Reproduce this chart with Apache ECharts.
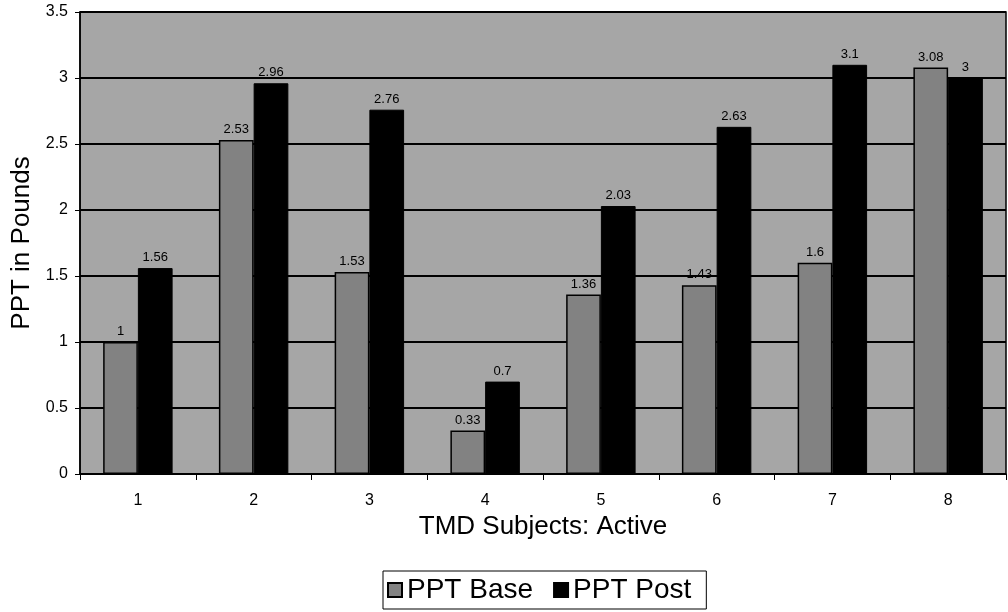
<!DOCTYPE html>
<html lang="en">
<head>
    <meta charset="UTF-8">
    <title>PPT chart</title>
    <script src="https://cdn.jsdelivr.net/npm/echarts@6/dist/echarts.min.js"></script>
    <style>
        html, body { margin: 0; padding: 0; background: #fff; }
        #chart { width: 1008px; height: 612px; }
    </style>
</head>
<body>
<div id="chart"></div>
<script type="text/javascript">
    // data
    var subjects = ['1', '2', '3', '4', '5', '6', '7', '8'];
    var pptBase = [1, 2.53, 1.53, 0.33, 1.36, 1.43, 1.6, 3.08];
    var pptPost = [1.56, 2.96, 2.76, 0.7, 2.03, 2.63, 3.1, 3];

    var font = 'Liberation Sans, Arial, sans-serif';

    var myChart = echarts.init(document.getElementById('chart'));

    var option = {
        animation: false,
        textStyle: { fontFamily: font, color: '#000' },
        grid: {
            left: 80,
            top: 12,
            width: 926,
            height: 462,
            containLabel: false,
            outerBoundsMode: 'none',
            show: true,
            backgroundColor: '#a6a6a6',
            borderColor: '#000',
            borderWidth: 1.5
        },
        legend: {
            left: 383,
            top: 571,
            icon: 'rect',
            itemWidth: 14,
            itemHeight: 14,
            itemGap: 20,
            padding: [5, 15, 5, 4],
            borderColor: '#000',
            borderWidth: 1,
            backgroundColor: '#fff',
            textStyle: { fontSize: 28, fontFamily: font, color: '#000' },
            data: ['PPT Base', 'PPT Post']
        },
        xAxis: {
            type: 'category',
            data: subjects,
            name: 'TMD Subjects: Active',
            nameLocation: 'middle',
            nameGap: 39,
            nameTextStyle: { fontSize: 26, fontFamily: font, color: '#000' },
            axisLine: { lineStyle: { color: '#000', width: 1.5 } },
            axisTick: { show: true, length: 6, lineStyle: { color: '#000' } },
            axisLabel: { fontSize: 16, color: '#000', margin: 19 }
        },
        yAxis: {
            type: 'value',
            min: 0,
            max: 3.5,
            interval: 0.5,
            name: 'PPT in Pounds',
            nameLocation: 'middle',
            nameGap: 44,
            nameTextStyle: { fontSize: 26, fontFamily: font, color: '#000' },
            axisLine: { show: true, lineStyle: { color: '#000', width: 1.5 } },
            axisTick: { show: true, length: 5, lineStyle: { color: '#000' } },
            axisLabel: { fontSize: 16, color: '#000', margin: 12 },
            splitLine: { show: true, lineStyle: { color: '#000', width: 2 } }
        },
        series: [
            {
                name: 'PPT Base',
                type: 'bar',
                data: pptBase,
                barGap: '0%',
                barCategoryGap: '40%',
                itemStyle: { color: '#828282', borderColor: '#000', borderWidth: 1.5 },
                label: { show: true, position: 'top', distance: 4, fontSize: 13, color: '#000' }
            },
            {
                name: 'PPT Post',
                type: 'bar',
                data: pptPost,
                barGap: '0%',
                barCategoryGap: '40%',
                itemStyle: { color: '#000', borderColor: '#000', borderWidth: 1 },
                label: { show: true, position: 'top', distance: 4, fontSize: 13, color: '#000' }
            }
        ]
    };

    myChart.setOption(option);
</script>
</body>
</html>
